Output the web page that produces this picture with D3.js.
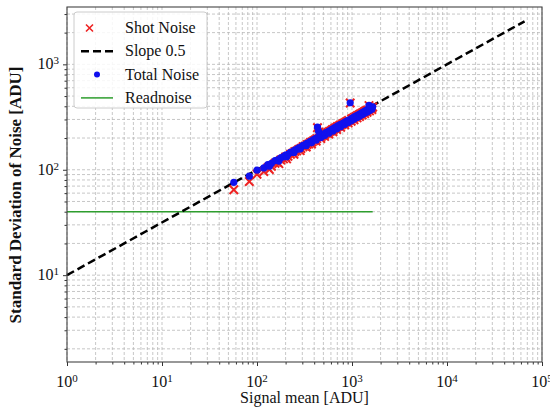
<!DOCTYPE html>
<html>
<head>
<meta charset="utf-8">
<script src="https://cdn.jsdelivr.net/npm/d3@7"></script>
<style>
	body { margin: 0; background: #fff; }
	svg text { font-family: 'Liberation Serif', 'DejaVu Serif', serif; fill: #111; }
	.grid line { stroke: #b9b9b9; stroke-width: 0.8; stroke-dasharray: 3,2; }
</style>
</head>
<body>
<svg id="chart" width="550" height="411"></svg>
<script>
'use strict';

// signal mean [ADU] for each flat pair
var signalMean = [57, 83, 100, 118, 130, 135, 142, 155, 165, 170, 178, 190, 200, 205, 212, 225, 238, 245, 250, 262,
	275, 285, 290, 305, 320, 330, 335, 350, 365, 375, 380, 395, 410, 420, 425, 433, 445, 460, 470, 475,
	490, 505, 515, 520, 540, 560, 570, 580, 600, 620, 630, 640, 660, 680, 690, 700, 725, 750, 760, 775,
	800, 830, 840, 860, 890, 910, 920, 957, 980, 990, 1020, 1050, 1060, 1100, 1130, 1140, 1180, 1200, 1220, 1260,
	1280, 1300, 1340, 1360, 1380, 1420, 1440, 1460, 1510, 1530, 1560, 1610, 1620, 1650];

// total noise [ADU]
var totalNoise = [76, 87, 99, 104, 112, 108, 115, 122, 124, 121, 130, 133, 138, 133, 140, 146, 149, 146, 154, 156,
	161, 157, 164, 170, 172, 169, 178, 180, 186, 180, 188, 193, 196, 191, 201, 254, 232, 214, 202, 211,
	216, 218, 211, 222, 226, 229, 222, 234, 237, 243, 233, 245, 251, 253, 244, 259, 262, 268, 256, 270,
	276, 280, 270, 286, 290, 281, 296, 432, 291, 306, 310, 301, 317, 322, 313, 329, 334, 322, 340, 345,
	333, 351, 356, 343, 362, 366, 353, 372, 408, 364, 385, 390, 374, 396];

// shot noise [ADU] (read noise removed)
var shotNoise = [64.6, 77.3, 90.6, 96, 104.6, 100.3, 107.8, 115.3, 117.4, 114.2, 123.7, 126.8, 132.1, 126.8, 134.2, 140.4, 143.5, 140.4, 148.7, 150.8,
	156, 151.8, 159, 165.2, 167.3, 164.2, 173.4, 175.5, 181.6, 175.5, 183.7, 188.8, 191.9, 186.8, 197, 250.8, 228.5, 210.2, 198, 207.2,
	212.3, 214.3, 207.2, 218.4, 222.4, 225.5, 218.4, 230.6, 233.6, 239.7, 229.5, 241.7, 247.8, 249.8, 240.7, 255.9, 258.9, 265, 252.9, 267,
	273.1, 277.1, 267, 283.2, 287.2, 278.1, 293.3, 430.1, 288.2, 303.4, 307.4, 298.3, 314.5, 319.5, 310.4, 326.6, 331.6, 319.5, 337.6, 342.7,
	330.6, 348.7, 353.7, 340.7, 359.8, 363.8, 350.7, 369.8, 406, 361.8, 382.9, 387.9, 371.9, 394];

var slopeX = [1, 65536];
var slopeY = [10, 2560];
var readX = [1, 1650];
var readY = [40, 40];

var xDomain = [1, 1e5];
var yDomain = [1.5, 3500];
var legendLabels = ['Shot Noise', 'Slope 0.5', 'Total Noise', 'Readnoise'];

var margins = { left: 67, right: 8, top: 7, bottom: 49 };
var width = 550 - margins.left - margins.right;
var height = 411 - margins.top - margins.bottom;

var svg = d3.select('#chart');
var g = svg.append('g').attr('transform', 'translate(' + margins.left + ',' + margins.top + ')');

var x = d3.scaleLog().domain(xDomain).range([0, width]);
var y = d3.scaleLog().domain(yDomain).range([height, 0]);

function logTicks(domain) {
	var out = [];
	for (var e = -1; e <= 6; e++) {
		for (var m = 1; m <= 9; m++) {
			var v = m * Math.pow(10, e);
			if (v >= domain[0] * 0.9999 && v <= domain[1] * 1.0001) {
				out.push(v);
			}
		}
	}
	return out;
}
function isMajor(v) {
	var l = Math.log10(v);
	return Math.abs(l - Math.round(l)) < 1e-9;
}

var xTicks = logTicks(xDomain);
var yTicks = logTicks(yDomain);

// grid
var grid = g.append('g').attr('class', 'grid');
grid.selectAll('line.gx').data(xTicks).enter().append('line').attr('class', 'gx')
	.attr('x1', function (d) { return x(d); }).attr('x2', function (d) { return x(d); })
	.attr('y1', 0).attr('y2', height);
grid.selectAll('line.gy').data(yTicks).enter().append('line').attr('class', 'gy')
	.attr('y1', function (d) { return y(d); }).attr('y2', function (d) { return y(d); })
	.attr('x1', 0).attr('x2', width);

// axes
var xAxis = d3.axisBottom(x).tickValues(xTicks).tickFormat('').tickSize(0);
var xAxisG = g.append('g').attr('transform', 'translate(0,' + height + ')').call(xAxis);
xAxisG.select('.domain').remove();
xAxisG.selectAll('.tick line').attr('y2', function (d) { return isMajor(d) ? 4 : 2.5; }).attr('stroke', '#333');

var yAxis = d3.axisLeft(y).tickValues(yTicks).tickFormat('').tickSize(0);
var yAxisG = g.append('g').call(yAxis);
yAxisG.select('.domain').remove();
yAxisG.selectAll('.tick line').attr('x2', function (d) { return isMajor(d) ? -4 : -2.5; }).attr('stroke', '#333');

function powLabel(sel) {
	sel.append('tspan').text('10');
	sel.append('tspan').attr('dy', '-0.45em').attr('font-size', '11px').text(function (d) {
		return Math.round(Math.log10(d));
	});
}

g.selectAll('text.xlab').data(xTicks.filter(isMajor)).enter().append('text').attr('class', 'xlab')
	.attr('x', function (d) { return x(d); }).attr('y', height + 25)
	.attr('text-anchor', 'middle').attr('font-size', '16px').call(powLabel);

g.selectAll('text.ylab').data(yTicks.filter(isMajor)).enter().append('text').attr('class', 'ylab')
	.attr('x', -8).attr('y', function (d) { return y(d) + 5; })
	.attr('text-anchor', 'end').attr('font-size', '16px').call(powLabel);

// readnoise
var line = d3.line().x(function (d) { return x(d[0]); }).y(function (d) { return y(d[1]); });
g.append('path').datum(d3.zip(readX, readY)).attr('d', line)
	.attr('fill', 'none').attr('stroke', '#2e9e2e').attr('stroke-width', 1.5);

// slope 0.5
g.append('path').datum(d3.zip(slopeX, slopeY)).attr('d', line)
	.attr('fill', 'none').attr('stroke', '#000').attr('stroke-width', 2.5).attr('stroke-dasharray', '8,4');

// shot noise crosses
var shot = d3.zip(signalMean, shotNoise);
var crossSize = 4.2;
g.selectAll('path.shot').data(shot).enter().append('path').attr('class', 'shot')
	.attr('d', function (d) {
		var cx = x(d[0]), cy = y(d[1]);
		return 'M' + (cx - crossSize) + ',' + (cy - crossSize) + 'L' + (cx + crossSize) + ',' + (cy + crossSize) +
			'M' + (cx - crossSize) + ',' + (cy + crossSize) + 'L' + (cx + crossSize) + ',' + (cy - crossSize);
	})
	.attr('stroke', '#ee2222').attr('stroke-width', 2).attr('fill', 'none');

// total noise dots
g.selectAll('circle.total').data(d3.zip(signalMean, totalNoise)).enter().append('circle').attr('class', 'total')
	.attr('cx', function (d) { return x(d[0]); }).attr('cy', function (d) { return y(d[1]); })
	.attr('r', 3.6).attr('fill', '#1010ee');

// frame
g.append('rect').attr('width', width).attr('height', height)
	.attr('fill', 'none').attr('stroke', '#444').attr('stroke-width', 1.1);

// axis titles
svg.append('text').attr('x', margins.left + width / 2).attr('y', 403)
	.attr('text-anchor', 'middle').attr('font-size', '16px').text('Signal mean [ADU]');
svg.append('text').attr('transform', 'translate(21,195) rotate(-90)')
	.attr('text-anchor', 'middle').attr('font-size', '17px').attr('font-weight', 'bold')
	.text('Standard Deviation of Noise [ADU]');

// legend
var legend = g.append('g').attr('transform', 'translate(7,5)');
legend.append('rect').attr('width', 133).attr('height', 96).attr('rx', 3)
	.attr('fill', '#fff').attr('fill-opacity', 0.85).attr('stroke', '#cccccc');

var rowY = function (i) { return 16 + i * 23.3; };
var item = legend.selectAll('g.item').data(legendLabels).enter().append('g').attr('class', 'item')
	.attr('transform', function (d, i) { return 'translate(0,' + rowY(i) + ')'; });
item.append('text').attr('x', 51).attr('y', 5).attr('font-size', '16px').text(function (d) { return d; });

legend.append('path').attr('d', 'M12,' + (rowY(0) - 3.5) + 'l7,7M12,' + (rowY(0) + 3.5) + 'l7,-7')
	.attr('stroke', '#ee2222').attr('stroke-width', 1.6);
legend.append('line').attr('x1', 7).attr('x2', 39).attr('y1', rowY(1)).attr('y2', rowY(1))
	.attr('stroke', '#000').attr('stroke-width', 2.5).attr('stroke-dasharray', '8,4');
legend.append('circle').attr('cx', 23).attr('cy', rowY(2)).attr('r', 3).attr('fill', '#1010ee');
legend.append('line').attr('x1', 7).attr('x2', 39).attr('y1', rowY(3)).attr('y2', rowY(3))
	.attr('stroke', '#2e9e2e').attr('stroke-width', 1.5);
</script>
</body>
</html>
